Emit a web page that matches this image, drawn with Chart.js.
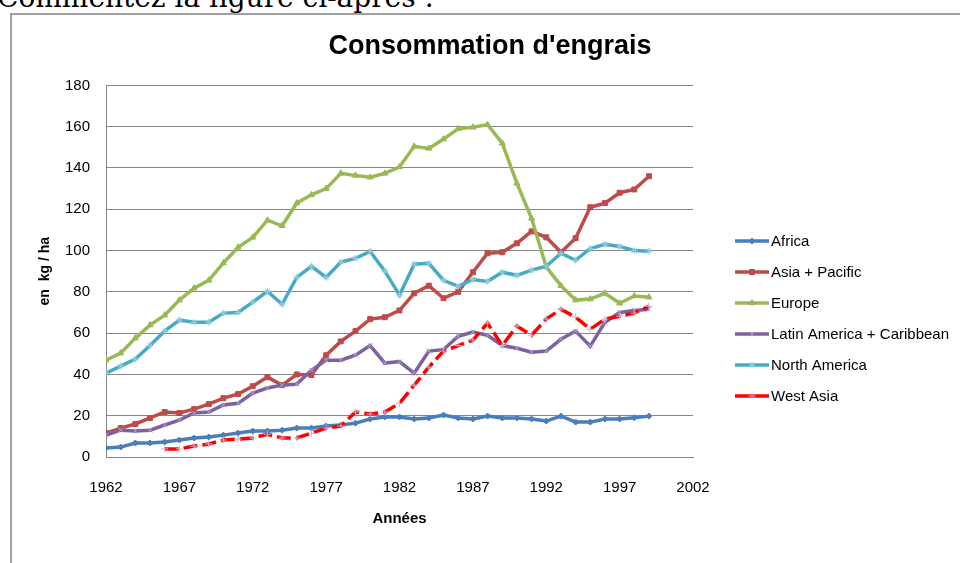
<!DOCTYPE html>
<html>
<head>
<meta charset="utf-8">
<title>Consommation d'engrais</title>
<script src="https://cdn.jsdelivr.net/npm/chart.js@4.4.1/dist/chart.umd.min.js"></script>
<style>
  html, body { margin: 0; padding: 0; background: #fff; overflow: hidden; }
  body { width: 960px; height: 563px; position: relative; }
  #question {
    position: absolute; left: -3px; top: -17px;
    font-family: 'DejaVu Serif', 'Liberation Serif', serif;
    font-size: 28px; line-height: 30px; white-space: nowrap; color: #000;
  }
  #frame {
    position: absolute; left: 10px; top: 13px; width: 960px; height: 560px;
    border-left: 2px solid #a0a0a0; border-top: 2px solid #a0a0a0;
  }
  #chartBox { position: absolute; left: 0; top: 0; width: 960px; height: 563px; }
</style>
</head>
<body>
<div id="question">Commentez la figure ci-après :</div>
<div id="frame"></div>
<div id="chartBox"><canvas id="lineChart" width="960" height="563"></canvas></div>
<script>
// years 1962 - 1999, kg / ha
var years = [1962,1963,1964,1965,1966,1967,1968,1969,1970,1971,1972,1973,1974,1975,1976,1977,1978,1979,1980,
  1981,1982,1983,1984,1985,1986,1987,1988,1989,1990,1991,1992,1993,1994,1995,1996,1997,1998,1999];
var tickYears = [1962,1967,1972,1977,1982,1987,1992,1997,2002];

var africa = [4.4,4.8,6.8,6.8,7.3,8.2,9.2,9.7,10.6,11.6,12.6,12.6,13,14,14,15,15.5,16.4,18.4,
  19.4,19.4,18.4,18.9,20.3,18.9,18.4,19.8,18.9,18.9,18.4,17.4,19.8,16.9,16.9,18.4,18.4,19,19.8];
var asiaPacific = [11.6,14,16,18.9,21.8,21.3,23.2,25.6,28.5,30.5,34.3,38.7,34.8,40,39.7,49.3,56,61,66.8,
  67.7,71,79.3,83,76.9,80,89.5,98.7,99.2,103.5,109.3,106.4,99.2,106,121,123,128,129.6,136];
var europe = [46.9,50.3,57.6,63.9,68.7,76,81.8,85.6,94,101.6,106.4,114.7,112,123,127,130,137.4,136.4,135.5,
  137.4,140.5,150.5,149.5,154,159,159.7,161,152,132.6,115.6,92,83,76,76.5,79.3,74.5,78,77.4];
var latinAmerica = [10.6,13,12.6,13,15.5,17.9,21.3,21.8,25.2,26,31,33.4,34.8,35.3,42,46.9,46.9,49.3,54,
  45.5,46.2,40.6,51.3,52,58.5,60.5,59,54,52.7,50.8,51.3,57,61,53.7,65.3,70,71,71.6];
var northAmerica = [40.6,44,47.4,54,61,66.3,65.3,65.3,69.7,70,75,80.3,74,87,92.4,87,94.4,96.2,99.6,
  90,78.4,93.4,93.8,85.6,82.7,86,85,89.5,88,90.5,92.4,98.7,95.3,101,103,102,100,99.7];
var westAsia = [null,null,null,null,3.9,3.9,5.3,6.3,8.2,8.7,9.2,11,9.2,9.2,11.6,14,15,21.8,20.8,
  21.8,26,34.8,43.5,51.3,54,56.6,64.8,54,63.4,59,66.8,71.6,67.7,61.9,66.8,68.2,69.7,73];

var seriesNames = ['Africa', 'Asia + Pacific', 'Europe', 'Latin America + Caribbean', 'North America', 'West Asia'];
var seriesValues = [africa, asiaPacific, europe, latinAmerica, northAmerica, westAsia];

var lineColors = ['#4A7EBB', '#BE4B48', '#98B954', '#7D60A0', '#46AAC5', '#FF0000'];
var markColors = ['#4A7EBB', '#BE4B48', '#98B954', '#B3A2C7', '#93CDDD', '#C4B3D6'];
var markStyles = ['rectRot', 'rect', 'triangle', 'crossRot', 'star', 'cross'];
var markSizes = [3, 3.5, 3.5, 3.5, 3.5, 3.5];

var baseFont = '"Liberation Sans", Arial, sans-serif';

function toPoints(values) {
  return values.map(function (v, i) { return { x: years[i], y: v }; });
}

var datasets = seriesValues.map(function (values, i) {
  return {
    label: seriesNames[i],
    data: toPoints(values),
    borderColor: lineColors[i],
    borderWidth: 3.5,
    borderDash: i == 5 ? [14, 5] : [],
    pointStyle: markStyles[i],
    pointRadius: markSizes[i],
    pointBackgroundColor: markColors[i],
    pointBorderColor: markColors[i],
    pointBorderWidth: 1,
    tension: 0,
    fill: false,
    order: 6 - i
  };
});

// legend on the right, drawn like the spreadsheet one
var sideLegend = {
  id: 'sideLegend',
  afterDraw: function (chart) {
    var ctx = chart.ctx;
    ctx.save();
    chart.data.datasets.forEach(function (ds, i) {
      var y = 241 + i * 31;
      ctx.setLineDash([]);
      ctx.strokeStyle = ds.borderColor;
      ctx.lineWidth = 3.5;
      ctx.beginPath();
      ctx.moveTo(735, y);
      ctx.lineTo(769, y);
      ctx.stroke();
      if (Chart.helpers && Chart.helpers.drawPoint) {
        ctx.fillStyle = ds.pointBackgroundColor;
        ctx.strokeStyle = ds.pointBorderColor;
        ctx.lineWidth = 1;
        Chart.helpers.drawPoint(ctx, { pointStyle: ds.pointStyle, radius: ds.pointRadius, rotation: 0, borderWidth: 1 }, 752, y);
      }
      ctx.fillStyle = '#000';
      ctx.font = '15px ' + baseFont;
      ctx.textBaseline = 'middle';
      ctx.textAlign = 'left';
      ctx.fillText(ds.label, 771, y + 1);
    });
    ctx.restore();
  }
};

var ctxL = document.getElementById('lineChart').getContext('2d');
var myChart = new Chart(ctxL, {
  type: 'line',
  data: { datasets: datasets },
  plugins: [sideLegend],
  options: {
    responsive: false,
    animation: false,
    layout: { padding: { left: 20, right: 0, top: 0, bottom: 31 } },
    plugins: {
      legend: { display: false },
      tooltip: { enabled: false },
      title: {
        display: true,
        text: "Consommation d'engrais",
        color: '#000',
        font: { family: baseFont, size: 27, weight: 'bold' },
        padding: { top: 30, bottom: 23 }
      }
    },
    scales: {
      x: {
        type: 'linear',
        min: 1962,
        max: 2002,
        afterBuildTicks: function (scale) {
          scale.ticks = tickYears.map(function (v) { return { value: v }; });
        },
        ticks: {
          color: '#000',
          padding: 22,
          maxRotation: 0,
          font: { family: baseFont, size: 15 },
          callback: function (v) { return String(v); }
        },
        grid: { display: false, drawTicks: false },
        border: { display: true, color: '#878787', width: 1 },
        title: {
          display: true,
          text: 'Années',
          color: '#000',
          font: { family: baseFont, size: 15, weight: 'bold' },
          padding: { top: 14, bottom: 4 }
        },
        afterFit: function (scale) { scale.height = 75; }
      },
      y: {
        min: 0,
        max: 180,
        ticks: {
          stepSize: 20,
          color: '#000',
          padding: 16,
          font: { family: baseFont, size: 15 }
        },
        grid: { color: '#878787', lineWidth: 1, drawTicks: false },
        border: { display: true, color: '#878787', width: 1 },
        title: {
          display: true,
          text: 'en  kg / ha',
          color: '#000',
          font: { family: baseFont, size: 14, weight: 'bold' },
          padding: { top: 17, bottom: 0 }
        },
        afterFit: function (scale) { scale.width = 86; }
      },
      // empty box that keeps the room for the legend
      side: {
        position: 'right',
        display: true,
        ticks: { display: false },
        grid: { display: false },
        border: { display: false },
        afterFit: function (scale) { scale.width = 267; }
      }
    }
  }
});
</script>
</body>
</html>
